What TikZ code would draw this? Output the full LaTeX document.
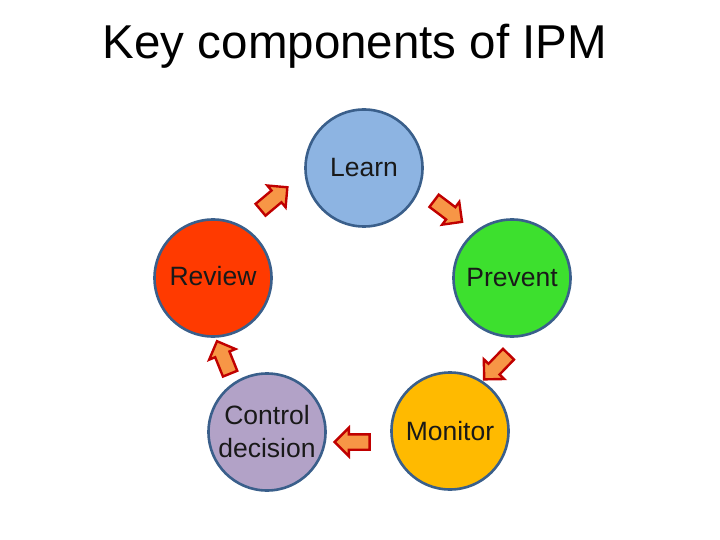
\documentclass[tikz,border=0pt]{standalone}
\usepackage{fontspec}
\setmainfont{Liberation Sans}
\usetikzlibrary{shapes.arrows,positioning,calc}
\definecolor{Rim}{RGB}{58,95,139}
\definecolor{LearnBlue}{RGB}{141,180,226}
\definecolor{ReviewRed}{RGB}{255,58,0}
\definecolor{PreventGreen}{RGB}{61,224,46}
\definecolor{MonitorGold}{RGB}{255,186,0}
\definecolor{ControlLilac}{RGB}{178,162,199}
\definecolor{ArrowFill}{RGB}{247,150,70}
\definecolor{ArrowRim}{RGB}{192,0,0}
\tikzset{
  stage/.style={circle,draw=Rim,line width=2.6pt,minimum size=117pt,inner sep=0pt,align=center,
    font=\fontsize{26.5}{33}\selectfont,text=black!90},
  turn/.style={single arrow,draw=ArrowRim,fill=ArrowFill,line width=2.4pt,minimum height=35pt,
    inner sep=6.5pt,single arrow head extend=6.5pt,single arrow head indent=0pt},
  heading/.style={font=\fontsize{47.5}{56}\selectfont,text=black}
}
\begin{document}
\begin{tikzpicture}[x=1pt,y=-1pt]
\useasboundingbox (0,0) rectangle (720,540);
\node[heading] (title) at (355,46) {Key components of IPM};

\node[stage,fill=LearnBlue] (learn) at (364,168) {Learn};
\node[stage,fill=ReviewRed] (review) at (213,278) {\raisebox{5pt}{Review}};
\node[stage,fill=PreventGreen] (prevent) at (512,278) {Prevent};
\node[stage,fill=MonitorGold] (monitor) at (450,431) {Monitor};
\node[stage,fill=ControlLilac] (control) at (267,432) {Control\\decision};

\node[turn,rotate=40] (a1) at (271,201) {};
\node[turn,rotate=-37] (a2) at (445,209) {};
\node[turn,rotate=-134] (a3) at (499,364) {};
\node[turn,rotate=180] (a4) at (356,442) {};
\node[turn,rotate=112] (a5) at (225,361) {};
\end{tikzpicture}
\end{document}
